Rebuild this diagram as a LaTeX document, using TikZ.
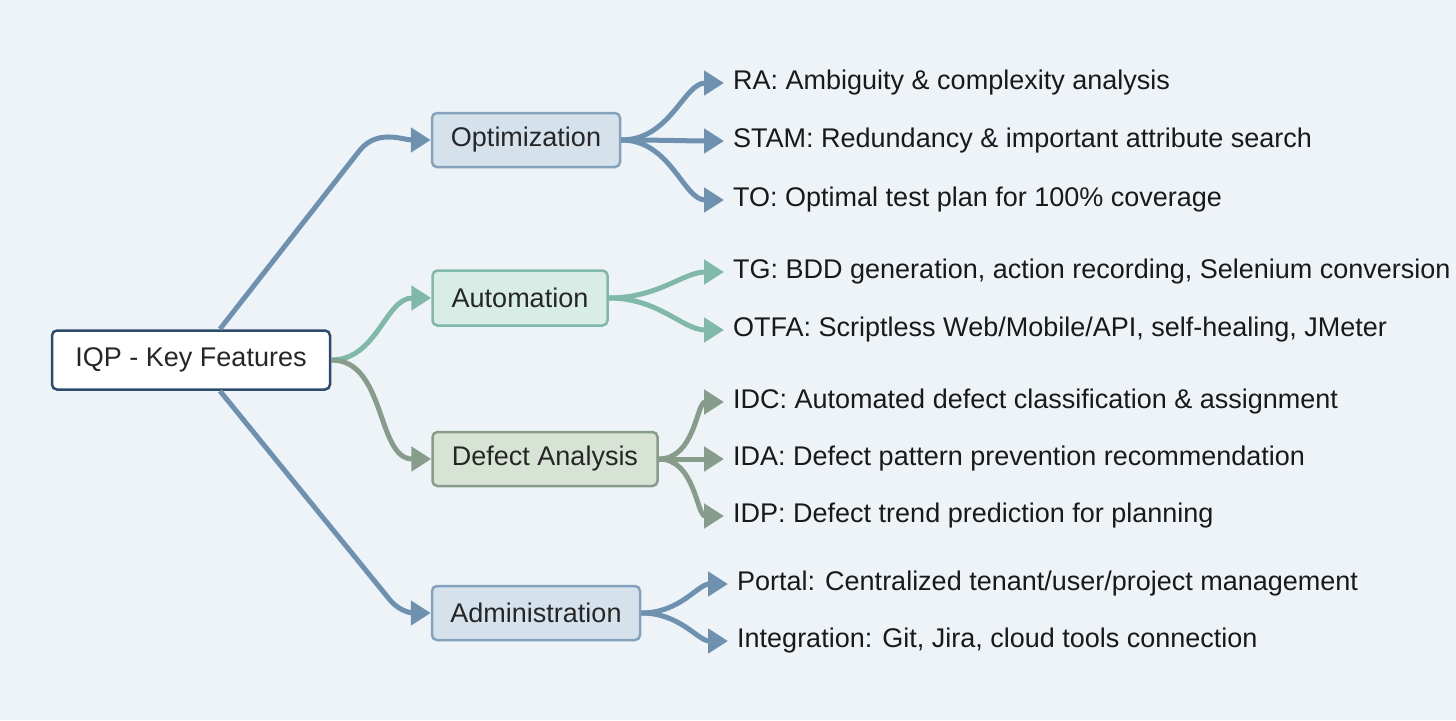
\documentclass[tikz,border=0pt]{standalone}
\usepackage{fontspec}
\setmainfont{Liberation Sans}
\usetikzlibrary{arrows.meta}
\definecolor{bg}{HTML}{EEF3F8}
\definecolor{cblue}{HTML}{6F91B0}
\definecolor{fblue}{HTML}{D5E2EC}
\definecolor{cteal}{HTML}{80B8AA}
\definecolor{fteal}{HTML}{D8EDE6}
\definecolor{cgreen}{HTML}{879C8B}
\definecolor{fgreen}{HTML}{D7E4D5}
\definecolor{croot}{HTML}{2D4B6B}
\begin{document}
\begin{tikzpicture}[x=1pt,y=-1pt,
  box/.style={draw,rounded corners=5pt,line width=2.5pt,inner sep=0pt,font=\fontsize{27}{32}\selectfont,text=black!85},
  leaf/.style={anchor=west,inner sep=0pt,font=\fontsize{27}{32}\selectfont,text=black!90},
  con/.style={line width=5pt,-{Triangle[length=20pt,width=24pt]}},
  lcon/.style={con,shorten >=9pt}]
\useasboundingbox (0,0) rectangle (1456,720);
\fill[bg] (0,0) rectangle (1456,720);
\node[box,draw=croot,fill=white,minimum width=278pt,minimum height=59pt] (root) at (191,360) {IQP - Key Features};
\node[box,draw=cblue!85,fill=fblue,minimum width=188pt,minimum height=54pt] (opt) at (526,140) {Optimization};
\node[box,draw=cteal,fill=fteal,minimum width=175pt,minimum height=55pt] (aut) at (520,298) {Automation};
\node[box,draw=cgreen,fill=fgreen,minimum width=225pt,minimum height=54pt] (def) at (545,459) {Defect Analysis};
\node[box,draw=cblue!85,fill=fblue,minimum width=208pt,minimum height=54pt] (adm) at (536,613) {Administration};
\node[leaf] (o1) at (733,83) {RA: Ambiguity \& complexity analysis};
\node[leaf] (o2) at (733,141) {STAM: Redundancy \& important attribute search};
\node[leaf] (o3) at (733,200) {TO: Optimal test plan for 100\% coverage};
\node[leaf] (a1) at (733,272) {TG: BDD generation, action recording, Selenium conversion};
\node[leaf] (a2) at (733,330) {OTFA: Scriptless Web/Mobile/API, self-healing, JMeter};
\node[leaf] (d1) at (733,402) {IDC: Automated defect classification \& assignment};
\node[leaf] (d2) at (733,459) {IDA: Defect pattern prevention recommendation};
\node[leaf] (d3) at (733,516) {IDP: Defect trend prediction for planning};
\node[leaf] (m1) at (737,584) {Portal: Centralized tenant/user/project management};
\node[leaf] (m2) at (737,641) {Integration: Git, Jira, cloud tools connection};
% root edges
\draw[con,cblue] (220,329) -- (360,150) to[out=50,in=180] (opt.west);
\draw[con,cteal] (root.east) to[out=0,in=180] (aut.west);
\draw[con,cgreen] (root.east) to[out=0,in=180] (def.west);
\draw[con,cblue] (220,391) -- (390,600) to[out=-50,in=180] (adm.west);
% leaves
\foreach \t in {o1,o2,o3}{\draw[lcon,cblue] (opt.east) to[out=0,in=180] (\t.west);}
\foreach \t in {a1,a2}{\draw[lcon,cteal] (aut.east) to[out=0,in=180] (\t.west);}
\foreach \t in {d1,d2,d3}{\draw[lcon,cgreen] (def.east) to[out=0,in=180] (\t.west);}
\foreach \t in {m1,m2}{\draw[lcon,cblue] (adm.east) to[out=0,in=180] (\t.west);}
\end{tikzpicture}
\end{document}
